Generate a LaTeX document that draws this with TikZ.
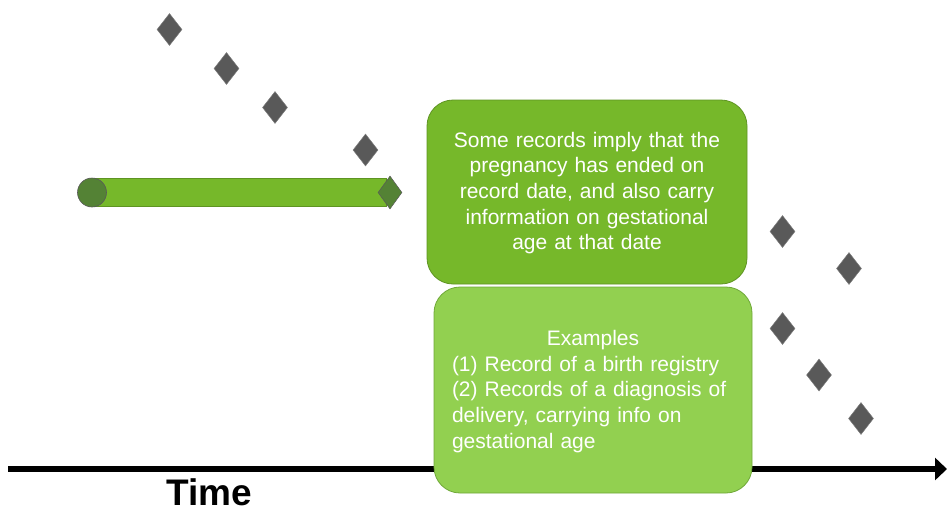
\documentclass[tikz,border=0pt]{standalone}
\usepackage{fontspec}
\setmainfont{Liberation Sans}
\usetikzlibrary{shapes.geometric,arrows.meta}
\definecolor{gdark}{HTML}{76B82A}
\definecolor{gdarkline}{HTML}{5E9422}
\definecolor{glight}{HTML}{92D050}
\definecolor{glightline}{HTML}{6FA838}
\definecolor{gdeep}{HTML}{548235}
\definecolor{gray6}{HTML}{595959}
\tikzset{
  gem/.style={shape=diamond, inner sep=0pt, minimum width=25pt, minimum height=32pt, fill=gray6, draw=gray6!80!white, line width=0.5pt},
  boxa/.style={rectangle, rounded corners=26pt, fill=gdark, draw=gdarkline, line width=0.8pt, minimum width=320pt, minimum height=184pt},
  boxb/.style={rectangle, rounded corners=26pt, fill=glight, draw=glightline, line width=0.8pt, minimum width=318pt, minimum height=206pt},
  boxtext/.style={text=white, font=\fontsize{21}{25.6}\selectfont, inner sep=0pt},
}
\begin{document}
\begin{tikzpicture}[x=1pt,y=-1pt]
\useasboundingbox (0,0) rectangle (947,512);
% time axis
\coordinate (axs) at (8,469);
\coordinate (axe) at (947,469);
\draw[line width=5.5pt, -{Triangle[width=22pt,length=12pt]}] (axs) -- (axe);
\node[font=\fontsize{37}{40}\selectfont\bfseries, anchor=base, inner sep=0pt] (time) at (209,505) {Time};
% bar
\path[fill=gdark, draw=gdarkline, line width=0.8pt] (92,178.5) rectangle (386,206.5);
\node[circle, inner sep=0pt, minimum size=29pt, fill=gdeep, draw=gray6, line width=0.6pt] (start) at (92,192.5) {};
\node[gem, fill=gdeep, draw=gray6, minimum width=24pt, minimum height=33pt] (end) at (390,192.5) {};
% diamonds
\node[gem] (d1) at (169.5,29.5) {};
\node[gem] (d2) at (226.5,68.5) {};
\node[gem] (d3) at (275,107.5) {};
\node[gem] (d4) at (365.5,150) {};
\node[gem] (d5) at (782.5,231.5) {};
\node[gem] (d6) at (849,268.5) {};
\node[gem] (d7) at (782.5,328.5) {};
\node[gem] (d8) at (819,375) {};
\node[gem] (d9) at (861,418.5) {};
% boxes
\node[boxa] (b1) at (587,192) {};
\node[boxtext, text width=312pt, align=center] (t1) at (587,193) {Some records imply that the\\pregnancy has ended on\\record date, and also carry\\information on gestational\\age at that date};
\node[boxb] (b2) at (593,390) {};
\node[boxtext, text width=282pt, align=left] (t2) at (593,391.5) {\makebox[\linewidth]{Examples}\\(1) Record of a birth registry\\(2) Records of a diagnosis of\\delivery, carrying info on\\gestational age};
\end{tikzpicture}
\end{document}
